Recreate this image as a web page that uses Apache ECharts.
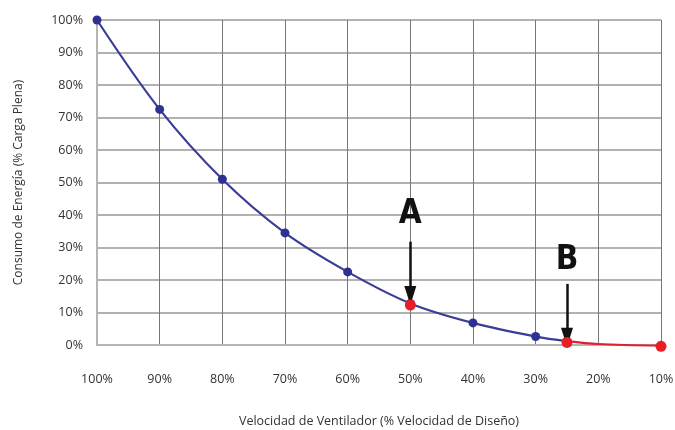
<!DOCTYPE html>
<html><head><meta charset="utf-8">
<script src="https://cdn.jsdelivr.net/npm/echarts@6/dist/echarts.min.js"></script>
<style>html,body{margin:0;padding:0;background:#fff}#c{width:675px;height:430px}</style>
</head><body><div id="c"></div>
<script>
const xTicks = [100, 90, 80, 70, 60, 50, 40, 30, 20, 10];
const blueSpeed = [100, 90, 80, 70, 60, 50, 40, 30, 25];
const blueEnergy = [100, 72.5, 51, 34.5, 22.5, 12.8, 6.8, 2.6, 1.2];
const redSpeed = [25, 20, 10];
const redEnergy = [1.2, 0.3, -0.2];
const markSpeed = [50, 25, 10];
const markEnergy = [12.3, 0.8, -0.4];
const annotations = [
  {label: 'A', speed: 50, letterAt: 40.2, arrowFrom: 31.8, arrowTo: 15.2},
  {label: 'B', speed: 25, letterAt: 26.0, arrowFrom: 18.8, arrowTo: 2.4}
];

const chart = echarts.init(document.getElementById('c'));
const font = '"Open Sans", "Noto Sans", sans-serif';
chart.setOption({
  animation: false,
  grid: {left: 97, right: 14, top: 20, bottom: 85, containLabel: false, outerBoundsMode: 'none'},
  xAxis: {
    type: 'value', inverse: true, min: 10, max: 100, interval: 10,
    name: 'Velocidad de Ventilador (% Velocidad de Diseño)',
    nameLocation: 'middle', nameGap: 70,
    nameTextStyle: {fontFamily: font, fontSize: 12.5, color: '#333'},
    axisLine: {show: true, lineStyle: {color: '#b5b5b5', width: 2}},
    axisTick: {show: false},
    axisLabel: {formatter: v => v + '%', margin: 28, fontFamily: font, fontSize: 12.5, color: '#333',
      showMinLabel: true, showMaxLabel: true},
    splitLine: {show: true, lineStyle: {color: '#777', width: 1}}
  },
  yAxis: {
    type: 'value', min: 0, max: 100, interval: 10,
    name: 'Consumo de Energía (% Carga Plena)',
    nameLocation: 'middle', nameGap: 72,
    nameTextStyle: {fontFamily: font, fontSize: 12, color: '#333'},
    axisLine: {show: true, lineStyle: {color: '#b5b5b5', width: 2}},
    axisTick: {show: false},
    axisLabel: {formatter: v => v + '%', margin: 14, fontFamily: font, fontSize: 12.5, color: '#333'},
    splitLine: {show: true, lineStyle: {color: '#999', width: 1.5}}
  },
  series: [
    {
      type: 'line', smooth: 0.35,
      data: blueSpeed.map((s, i) => [s, blueEnergy[i]]),
      symbol: 'circle', symbolSize: 9,
      itemStyle: {color: '#2e3192'},
      lineStyle: {color: '#3a3d98', width: 2.2},
      z: 3
    },
    {
      type: 'line', smooth: 0.35, clip: false,
      data: redSpeed.map((s, i) => [s, redEnergy[i]]),
      symbol: 'none',
      lineStyle: {color: '#e0202e', width: 2.2},
      z: 3
    },
    {
      type: 'scatter', clip: false,
      data: markSpeed.map((s, i) => [s, markEnergy[i]]),
      symbol: 'circle', symbolSize: 11,
      itemStyle: {color: '#e81e25', opacity: 1},
      z: 5
    },
    {
      type: 'scatter', clip: false,
      data: annotations.map(a => ({value: [a.speed, a.letterAt], label: {show: true, formatter: a.label}})),
      symbolSize: 0,
      itemStyle: {opacity: 1},
      label: {show: true, position: 'inside', fontFamily: '"DejaVu Sans Condensed", "DejaVu Sans", sans-serif', fontWeight: 'bold',
        fontSize: 33, color: '#111', opacity: 1},
      z: 6,
      markLine: {
        silent: true,
        symbol: ['none', 'triangle'], symbolSize: [12, 19],
        label: {show: false},
        lineStyle: {color: '#111', width: 2.5, type: 'solid', opacity: 1},
        data: annotations.map(a => [{coord: [a.speed, a.arrowFrom]}, {coord: [a.speed, a.arrowTo]}])
      }
    }
  ]
});
</script></body></html>
